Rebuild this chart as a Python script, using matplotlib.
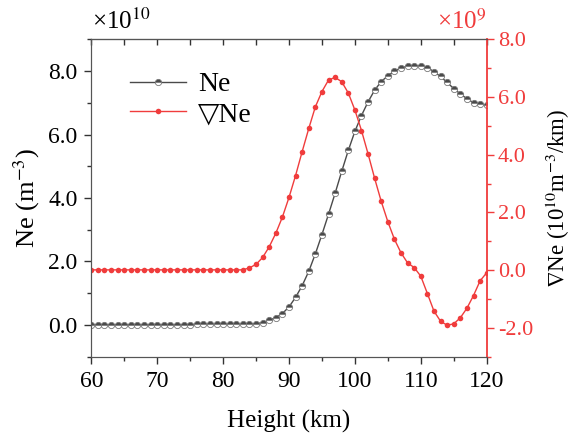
import matplotlib.pyplot as plt
import numpy as np
from matplotlib.ticker import MultipleLocator, FormatStrFormatter

plt.rcParams['font.family'] = ['Liberation Serif', 'DejaVu Serif']
plt.rcParams['mathtext.fontset'] = 'stix'
plt.rcParams['axes.unicode_minus'] = True

# height in km, one point per km
height = np.arange(60, 121)

# electron density, x1e10 m^-3
ne = [0.01] * 16 + [0.02] * 8 + [
    0.03, 0.04, 0.07, 0.15, 0.23, 0.36, 0.57, 0.87, 1.24, 1.69,
    2.24, 2.85, 3.49, 4.15, 4.84, 5.50, 6.10, 6.60, 7.03, 7.40,
    7.67, 7.85, 8.00, 8.10, 8.15, 8.17, 8.17, 8.11, 7.98, 7.83,
    7.64, 7.45, 7.28, 7.13, 7.00, 6.95, 6.92]

# gradient of Ne, x1e9
grad_ne = [0.01] * 24 + [
    0.08, 0.20, 0.44, 0.81, 1.28, 1.84, 2.52, 3.28, 4.11, 4.91,
    5.66, 6.19, 6.59, 6.68, 6.53, 6.14, 5.55, 4.84, 4.03, 3.18,
    2.38, 1.68, 1.07, 0.60, 0.25, 0.09, -0.21, -0.81, -1.42, -1.77,
    -1.91, -1.86, -1.65, -1.32, -0.88, -0.37, -0.09]

red = '#f03c3c'
dark = '#4a4a4a'

fig = plt.figure(figsize=(5.83, 4.47), dpi=100)
ax = fig.add_axes([0.1566, 0.202, 0.6782, 0.710])
ax2 = ax.twinx()

l1, = ax.plot(height, ne, color=dark, lw=1.0, marker='o', markersize=4.5,
              fillstyle='top', markerfacecolor=dark, markerfacecoloralt='white',
              markeredgecolor='#777777', markeredgewidth=0.6, label='Ne')
l2, = ax2.plot(height, grad_ne, color=red, lw=1.0, marker='o', markersize=4,
               markeredgewidth=0, label='\u25bdNe')

ax.set_xlim(60, 120)
ax.set_ylim(-1, 9)
ax2.set_ylim(-3, 8)

ax.xaxis.set_major_locator(MultipleLocator(10))
ax.xaxis.set_minor_locator(MultipleLocator(5))
ax.yaxis.set_major_locator(MultipleLocator(2))
ax.yaxis.set_minor_locator(MultipleLocator(1))
ax.yaxis.set_major_formatter(FormatStrFormatter('%.1f'))
ax2.yaxis.set_major_locator(MultipleLocator(2))
ax2.yaxis.set_minor_locator(MultipleLocator(1))
ax2.yaxis.set_major_formatter(FormatStrFormatter('%.1f'))

ax.tick_params(axis='both', which='major', labelsize=17, direction='out', length=5, width=1,
               colors='#333333', labelcolor='black', pad=5)
ax.tick_params(axis='both', which='minor', direction='out', length=3, width=1, colors='#333333')
ax2.tick_params(axis='y', which='major', labelsize=16, direction='out', length=5, width=1,
                colors=red, pad=3)
ax2.tick_params(axis='y', which='minor', direction='out', length=3, width=1, colors=red)

top = ax.secondary_xaxis('top')
top.xaxis.set_major_locator(MultipleLocator(5))
top.tick_params(direction='in', length=4, width=1, labeltop=False, colors='#333333')
top.spines['top'].set_color('#333333')

for s in ['left', 'bottom', 'top']:
    ax.spines[s].set_color('#555555')
    ax2.spines[s].set_color('#555555')
ax.spines['right'].set_visible(False)
ax2.spines['right'].set_color(red)
ax2.spines['right'].set_linewidth(1.3)

ax.set_xlabel('Height (km)', fontsize=18, labelpad=13)
ax.set_ylabel('Ne (m$^{-3}$)', fontsize=19, labelpad=4)
ax2.set_ylabel('$\\nabla$Ne (10$^{10}$m$^{-3}$/km)', fontsize=16.5, labelpad=8)

fig.text(0.157, 0.925, '\u00d710$^{10}$', fontsize=18, ha='left', va='bottom')
fig.text(0.835, 0.925, '\u00d710$^{9}$', fontsize=18, ha='right', va='bottom', color=red)

leg = ax.legend(handles=[l1, l2], loc='upper left', bbox_to_anchor=(0.098, 0.897),
                frameon=False, handlelength=2.0, handletextpad=0.45, labelspacing=0.15,
                borderpad=0, borderaxespad=0,
                prop={'family': ['Liberation Serif', 'DejaVu Sans'], 'size': 20})

fig.savefig('out.png', dpi=100)
